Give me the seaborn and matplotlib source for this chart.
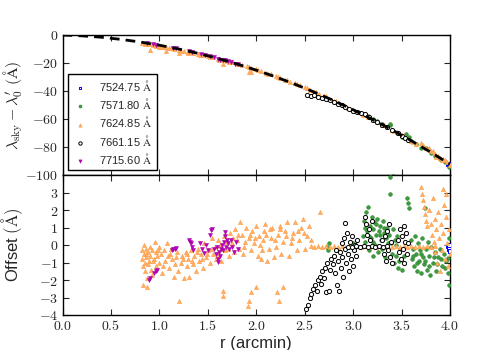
import numpy as np
import pandas as pd
import seaborn as sns
import matplotlib
matplotlib.use("Agg")
import matplotlib.pyplot as plt
from matplotlib.ticker import FuncFormatter, FixedLocator

# ---------------- data ----------------
series_labels = [r"7524.75 $\mathrm{\AA}$", r"7571.80 $\mathrm{\AA}$",
                 r"7624.85 $\mathrm{\AA}$", r"7661.15 $\mathrm{\AA}$",
                 r"7715.60 $\mathrm{\AA}$"]

# model curve (dashed line, top panel)
model_r = [0.0, 0.2, 0.4, 0.6, 0.8, 1.0, 1.2, 1.4, 1.6, 1.8, 2.0, 2.2, 2.4,
           2.6, 2.8, 3.0, 3.2, 3.4, 3.6, 3.8, 4.0]
model_dl = [0.0, -0.6, -1.6, -3.1, -5.0, -7.3, -10.0, -13.1, -16.7, -20.7,
            -25.1, -29.9, -35.2, -40.8, -46.9, -53.4, -60.4, -67.7, -75.5,
            -83.7, -92.3]

# ---- top panel: measured lambda_sky - lambda_0' ----
blue_top_r = [3.98, 3.99, 4.00]
blue_top_dl = [-92.0, -92.3, -92.5]

green_top_r = [3.05, 3.10, 3.15, 3.20, 3.25, 3.30, 3.35, 3.38, 3.38, 3.40, 3.45,
               3.50, 3.55, 3.58, 3.60, 3.65, 3.70, 3.75, 3.80, 3.85, 3.90, 3.95,
               3.99, 3.41]
green_top_dl = [-55.0, -56.5, -58.0, -60.0, -61.5, -63.5, -65.5, -64.0, -63.5,
                -67.5, -70.0, -72.5, -71.0, -73.0, -76.0, -78.0, -80.5, -81.0,
                -84.5, -86.5, -88.5, -91.0, -94.0, -100.5]

orange_top_r = [0.82, 0.85, 0.88, 0.90, 0.93, 0.96, 1.00, 1.04, 1.07, 1.10,
                1.15, 1.20, 1.25, 1.30, 1.35, 1.40, 1.45, 1.50, 1.55, 1.60,
                1.66, 1.70, 1.75, 1.80, 1.85, 1.90, 1.95, 2.00, 2.05, 2.10,
                2.15, 2.20, 2.25, 2.30, 2.35, 2.40, 2.45, 2.50, 2.55, 2.60,
                2.65, 2.70, 2.75, 2.80, 2.85, 2.90, 2.95, 3.00, 3.05, 3.10,
                3.15, 3.20, 3.25, 3.30, 3.35, 3.40, 3.45, 3.50, 3.55, 3.60,
                3.65, 3.70, 3.72, 3.75, 3.80, 3.82, 3.85, 3.88, 3.90, 3.93,
                3.95, 3.97, 4.00,
                0.90, 1.07, 1.20, 1.66, 1.92, 1.95, 1.00, 1.30,
                1.02, 1.12, 1.22, 1.32, 1.42, 1.52, 1.62, 1.72, 1.82, 1.92,
                2.02, 2.12, 2.22, 2.32, 2.42, 2.52, 2.62, 2.72, 2.82, 2.92,
                3.02, 3.12, 3.22, 3.32, 3.42, 3.52, 3.62, 3.78, 3.86, 3.92]
orange_top_dl = [-5.6, -6.2, -6.3, -6.7, -6.9, -7.5, -7.8, -8.6, -8.7, -9.2,
                 -10.0, -10.7, -11.6, -12.4, -13.0, -13.8, -14.6, -15.2, -16.0,
                 -16.8, -17.9, -18.5, -19.4, -20.4, -21.4, -22.4, -23.6, -24.6,
                 -25.8, -26.9, -28.2, -29.4, -30.6, -32.0, -33.3, -34.6, -36.0,
                 -37.4, -39.0, -40.6, -42.3, -43.8, -45.5, -47.0, -48.6, -50.2,
                 -51.8, -53.4, -55.1, -56.8, -58.6, -60.4, -62.2, -64.0, -65.8,
                 -67.7, -69.6, -71.6, -73.5, -75.5, -77.5, -77.0, -78.5, -80.4,
                 -82.6, -83.0, -85.0, -86.2, -87.5, -88.3, -89.6, -91.0, -92.6,
                 -10.5, -11.6, -13.2, -20.5, -26.3, -26.6, -8.8, -12.6,
                 -8.4, -9.6, -11.2, -12.2, -14.0, -15.7, -17.6, -19.2, -21.0,
                 -22.9, -25.3, -27.8, -29.8, -32.3, -35.0, -37.8, -41.0, -43.9,
                 -47.2, -50.6, -54.0, -57.3, -61.0, -64.6, -68.5, -72.3, -76.2,
                 -80.9, -86.8, -89.4]

black_top_r = [2.52, 2.56, 2.60, 2.64, 2.68, 2.72, 2.76, 2.80, 2.84, 2.88, 2.92,
               2.96, 3.00, 3.04, 3.08, 3.12, 3.16, 3.20, 3.25, 3.30, 3.35, 3.40,
               3.46, 3.50, 3.54, 3.57]
black_top_dl = [-42.6, -43.5, -43.2, -44.0, -45.0, -46.0, -46.3, -47.5, -49.5,
                -50.0, -51.3, -52.5, -54.0, -55.0, -56.0, -56.5, -58.5, -60.5,
                -62.3, -64.0, -66.0, -68.0, -70.0, -72.0, -73.5, -74.8]

magenta_top_r = [0.87, 0.93, 0.96, 1.14, 1.17, 1.31, 1.34, 1.43, 1.47, 1.52,
                 1.56, 1.60, 1.63, 1.66, 1.68, 1.71, 1.74, 1.78, 1.81]
magenta_top_dl = [-5.8, -6.3, -6.9, -9.2, -9.4, -11.3, -12.1, -13.6, -14.6,
                  -14.8, -15.8, -17.3, -17.8, -18.2, -18.0, -18.8, -19.3,
                  -20.5, -21.0]

# ---- bottom panel: offsets ----
blue_off_r = [3.98, 3.99, 4.00, 3.99]
blue_off = [-0.05, -0.2, -0.35, 0.0]

green_off_r = [2.73, 2.74, 2.75, 2.96, 3.00,
               3.10, 3.11, 3.12, 3.13, 3.14, 3.15, 3.16, 3.17, 3.18, 3.19, 3.20,
               3.21, 3.22, 3.23, 3.24, 3.25, 3.26, 3.27, 3.28, 3.29, 3.30, 3.31,
               3.32, 3.33, 3.34, 3.35, 3.36, 3.37, 3.38, 3.38, 3.39, 3.40, 3.41,
               3.42, 3.43, 3.44, 3.45, 3.46, 3.48, 3.50,
               3.56, 3.57, 3.58,
               3.60, 3.61, 3.62, 3.63, 3.64, 3.65, 3.66, 3.67, 3.68, 3.69, 3.70,
               3.71, 3.72, 3.73, 3.74, 3.75, 3.76, 3.77, 3.78, 3.79, 3.80, 3.82,
               3.84, 3.86, 3.88, 3.90, 3.92, 3.94, 3.96, 3.98, 3.98, 3.99, 3.99,
               3.12, 3.16, 3.20, 3.24, 3.28, 3.32, 3.36, 3.44, 3.47, 3.52,
               3.62, 3.66, 3.70, 3.74, 3.78, 3.83, 3.87, 3.91, 3.95]
green_off = [-0.1, -0.3, 0.1, -0.1, 0.1,
             0.5, 1.4, 0.2, 1.9, 0.8, 2.2, -0.3, 1.1, 0.4, 1.6, -0.6,
             0.9, 1.3, 0.0, 0.6, 1.5, -0.4, 0.8, 1.1, 0.3, -0.2, 1.4,
             0.7, -0.7, 0.4, 1.0, -0.3, 0.6, 3.9, 2.9, 0.1, -0.5, 0.9,
             -1.0, 0.3, -0.6, 0.5, -1.3, -0.2, -1.4,
             2.7, 2.4, 2.1,
             0.3, -0.8, -0.2, -1.2, 0.5, -0.5, -1.5, 0.1, -0.9, -0.3, -1.6,
             0.4, -0.7, -1.1, 2.1, -0.2, -1.4, 0.2, -0.6, -1.7, -0.1, -1.0,
             -0.4, -1.5, -0.7, -0.2, -1.2, -0.5, -0.9, -0.75, -1.6, -2.3, 0.4,
             1.0, 0.5, 0.2, 1.2, 0.6, 1.0, 0.1, 0.0, -0.9, -0.6,
             -0.6, -1.0, -0.5, -0.9, -1.2, -0.7, -1.1, -0.8, -1.3]

orange_off_r = [0.82, 0.82, 0.83, 0.83, 0.84, 0.84, 0.85, 0.85, 0.86, 0.86,
                0.87, 0.87, 0.88, 0.88, 0.89, 0.90, 0.90, 0.91, 0.92, 0.92,
                0.94, 0.95, 0.96, 0.97, 0.98, 1.00, 1.00, 1.02, 1.03, 1.05,
                1.06, 1.08, 1.09, 1.10, 1.12, 1.13, 1.15, 1.16, 1.18, 1.19, 1.20,
                1.22, 1.23, 1.25, 1.27, 1.28, 1.30, 1.31, 1.33, 1.35, 1.36,
                1.38, 1.40, 1.41, 1.43, 1.45, 1.46, 1.48, 1.50,
                1.52, 1.54, 1.55, 1.57, 1.58, 1.60, 1.61, 1.63, 1.64, 1.66,
                1.66, 1.67, 1.68, 1.70, 1.72, 1.73, 1.75, 1.77, 1.78, 1.80,
                1.82, 1.83, 1.85, 1.86, 1.88, 1.89, 1.91, 1.92, 1.93, 1.95,
                1.95, 1.96, 1.98, 2.00, 2.00, 2.02, 2.03,
                2.05, 2.06, 2.07, 2.08, 2.09, 2.11, 2.13, 2.15, 2.16, 2.18,
                2.20, 2.21, 2.22, 2.23, 2.24, 2.26, 2.28, 2.28, 2.30, 2.32,
                2.34, 2.36, 2.38, 2.40, 2.42, 2.44, 2.46, 2.48, 2.50, 2.52,
                2.54, 2.57, 2.66,
                2.56, 2.60, 2.64, 2.68, 2.72, 2.76, 2.80, 2.84, 2.88, 2.92,
                2.96, 3.00, 3.04, 3.08, 3.12, 3.16, 3.20, 3.24, 3.28, 3.32,
                3.36, 3.40, 3.44, 3.48, 3.52, 3.56, 3.60, 3.64, 3.68, 3.72,
                3.76, 3.80, 3.84,
                3.70, 3.71, 3.72, 3.73, 3.74, 3.75, 3.76, 3.78, 3.80, 3.81,
                3.82, 3.83, 3.84, 3.85, 3.86, 3.87, 3.88, 3.89, 3.90, 3.91,
                3.92, 3.93, 3.94, 3.95, 3.96, 3.97, 3.98, 3.99, 4.00, 3.93, 3.96,
                0.86, 0.93, 0.99, 1.04, 1.11, 1.17, 1.24, 1.29, 1.34, 1.39,
                1.44, 1.49, 1.53, 1.59, 1.65, 1.71, 1.76, 1.81, 1.87, 1.94,
                1.99, 2.04, 2.10, 2.14, 2.19, 2.25, 2.31, 2.37, 2.43, 2.49]
orange_off = [-0.3, -0.8, -1.2, -2.3, 0.0, -0.5, -1.0, -1.5, -0.2, -0.7,
              -2.4, -1.9, -0.4, -1.1, -0.9, -0.1, -0.6, -1.4, -0.3, -1.7,
              -0.8, 0.2, -0.4, -1.2, -0.6, -0.1, -1.0, -0.5, -1.6, -0.3,
              -0.9, 0.1, -0.6, -1.3, -0.2, -0.8, -1.8, -1.1, -0.4, -1.5, -3.2,
              -1.0, -0.6, -1.9, -0.4, -1.2, -0.8, -1.8, -0.3, -1.1, -0.6,
              -1.5, -0.2, -0.9, -0.5, -1.3, 0.1, -0.7, -0.3,
              -1.0, 0.4, -0.5, -0.1, -0.8, 0.3, -0.4, 0.0, -0.9, -2.6,
              -2.9, 0.5, -0.3, 0.2, -0.6, 0.7, 0.1, -0.4, 0.9, 0.3,
              -0.2, 1.3, 0.6, -0.5, 0.2, 1.0, -3.5, -3.2, 0.4, -2.7,
              -0.3, 0.8, 0.1, -2.4, 1.1, -0.6, 0.5,
              -0.8, -0.3, 0.3, 0.8, 1.2, -0.9, -0.2, 0.4, 1.0, -0.7,
              -0.1, -2.7, 0.6, -3.2, 1.1, -0.5, -2.4, 0.2, 0.8, 1.3,
              -0.6, 0.1, 0.7, 1.3, -0.3, 0.3, 1.0, 1.5, -0.2, 0.5,
              1.1, 0.3, 1.9,
              -0.05, -0.1, -0.05, -0.1, -0.05, -0.1, -0.05, -0.1, -0.05, -0.1,
              -0.05, -0.1, -0.05, -0.1, -0.05, -0.1, -0.05, -0.1, -0.05, -0.1,
              -0.05, -0.1, -0.05, -0.1, -0.05, -0.1, -0.05, -0.1, -0.05, -0.1,
              -0.05, -0.1, -0.05,
              3.3, 2.9, 2.6, 2.2, 1.8, 1.4, 1.1, 2.0, 1.2, 0.6,
              2.7, 0.2, 1.5, -0.4, 0.9, -1.0, 1.9, 0.4, -1.5, 1.2,
              -0.3, 0.7, 2.3, -0.8, 1.6, 0.1, -1.2, 0.9, -0.5, 3.2, 2.9,
              -0.5, -0.9, -0.3, -1.2, -0.5, -0.7, -0.8, -0.5, -0.9, -0.4,
              -0.8, -0.5, -0.2, -0.6, -0.2, -0.2, 0.4, 0.6, -0.1, 0.6,
              0.4, 0.0, 0.6, 0.9, 0.3, 0.9, 0.5, 0.4, 0.8, 0.7]

black_off_r = [2.51, 2.53, 2.55, 2.57, 2.59, 2.61, 2.63, 2.64, 2.66, 2.67,
               2.68, 2.70, 2.71, 2.72, 2.73, 2.75, 2.76, 2.77, 2.79, 2.80,
               2.81, 2.82, 2.83, 2.84, 2.85, 2.86, 2.87, 2.88, 2.89, 2.90,
               2.91, 2.92, 2.92, 2.93, 2.94, 2.95, 2.96, 2.97, 2.98, 2.99,
               3.00, 3.01, 3.02, 3.03, 3.04,
               2.95, 2.99, 3.03, 3.07, 3.11, 3.15, 3.19, 3.23, 3.27, 3.31, 3.35,
               3.12, 3.13, 3.14, 3.16, 3.17, 3.19,
               3.30, 3.32, 3.33, 3.34, 3.35, 3.36, 3.37, 3.38, 3.39, 3.40,
               3.46, 3.47, 3.48, 3.49, 3.50, 3.51, 3.52, 3.53, 3.54, 3.55,
               3.56, 3.57]
black_off = [-3.65, -3.4, -3.0, -2.8, -2.5, -2.3, -2.6, -2.0, -1.8, -2.2,
             -1.5, -1.9, -1.3, -2.7, -1.0, -2.6, -1.4, -0.8, -1.1, -0.6,
             -1.6, -0.3, -2.3, -0.9, -2.6, -0.4, -1.3, 0.1, -0.7, -1.8,
             0.4, 1.25, -0.2, -1.0, 0.7, -0.5, -1.5, 0.2, -0.8, 0.5,
             -1.2, -0.3, 0.0, -0.6, 0.3,
             -0.1, -0.1, -0.05, -0.1, -0.05, -0.1, -0.05, -0.1, -0.05, -0.1, -0.05,
             1.6, 1.2, 0.6, 0.9, 0.3, 1.4,
             0.3, -0.5, 0.5, -0.9, 0.8, -0.3, 1.2, -0.7, 0.2, -1.0,
             0.3, -0.4, 0.9, -0.8, 0.5, -0.2, 1.1, -1.0, 0.2, 0.7,
             -0.5, 0.1]

magenta_off_r = [0.89, 0.90, 0.94, 0.96, 0.98, 1.13, 1.14, 1.16, 1.17, 1.31,
                 1.32, 1.33, 1.34, 1.35, 1.42, 1.44, 1.46, 1.48, 1.50, 1.52,
                 1.53, 1.54, 1.56, 1.58, 1.59, 1.60, 1.61, 1.62, 1.63, 1.64,
                 1.65, 1.66, 1.67, 1.68, 1.68, 1.69, 1.70, 1.71, 1.72, 1.74,
                 1.75, 1.77, 1.79, 1.81]
magenta_off = [-2.0, -1.9, -1.6, -1.5, -1.4, -0.3, -0.25, -0.2, -0.15, 0.3,
               0.2, 0.1, -0.1, -0.3, 0.1, -0.2, -0.45, 0.0, -0.3, 0.6,
               0.85, 0.9, -0.2, -0.5, -0.1, -0.8, -0.95, -0.4, -0.6, -0.2,
               0.0, -0.3, 0.2, 0.5, 0.75, -0.1, 0.3, 0.1, -0.2, 0.3,
               -0.1, -0.4, 0.2, -0.2]

x_ticks = [0.0, 0.5, 1.0, 1.5, 2.0, 2.5, 3.0, 3.5, 4.0]
top_yticks = [0, -20, -40, -60, -80, -100]
bot_yticks = [-4, -3, -2, -1, 0, 1, 2, 3]

# ---------------- styling ----------------
sns.set_style("ticks")
plt.rcParams["font.family"] = ["Liberation Sans", "DejaVu Sans"]
plt.rcParams["mathtext.fontset"] = "cm"
plt.rcParams["axes.linewidth"] = 1.0

styles = [
    dict(marker="s", color="white", edgecolor="#0000ff", linewidth=0.7, s=6),
    dict(marker="o", color="#3d9c3d", edgecolor="#2a7f2a", linewidth=0.4, s=7),
    dict(marker="^", color="#ffb066", edgecolor="#ff9a40", linewidth=0.4, s=9),
    dict(marker="o", color="white", edgecolor="black", linewidth=0.7, s=9),
    dict(marker="v", color="#c000c0", edgecolor="#a000a0", linewidth=0.4, s=8),
]

fig = plt.figure(figsize=(5.0, 3.5), dpi=100)
fig.patch.set_facecolor("white")
ax1 = fig.add_axes([0.125, 0.5, 0.775, 0.4])
ax2 = fig.add_axes([0.125, 0.1, 0.775, 0.4], sharex=ax1)

top_data = [(blue_top_r, blue_top_dl), (green_top_r, green_top_dl),
            (orange_top_r, orange_top_dl), (black_top_r, black_top_dl),
            (magenta_top_r, magenta_top_dl)]
bot_data = [(blue_off_r, blue_off), (green_off_r, green_off),
            (orange_off_r, orange_off), (black_off_r, black_off),
            (magenta_off_r, magenta_off)]

for (xr, yv), st, lab in zip(top_data, styles, series_labels):
    sns.scatterplot(x=xr, y=yv, ax=ax1, label=lab, zorder=3, **st)
sns.lineplot(x=model_r, y=model_dl, ax=ax1, color="black", lw=2.0,
             linestyle=(0, (3.5, 2.2)), zorder=4, legend=False)

for (xr, yv), st in zip(bot_data, styles):
    sns.scatterplot(x=xr, y=yv, ax=ax2, zorder=3, **st)

mfmt1 = FuncFormatter(lambda v, p: "$%.1f$" % v)
mfmt0 = FuncFormatter(lambda v, p: "$%d$" % int(round(v)))

for ax in (ax1, ax2):
    ax.set_xlim(0, 4)
    ax.xaxis.set_major_locator(FixedLocator(x_ticks))
    ax.tick_params(direction="in", top=True, right=True, length=4, width=0.8,
                   labelsize=10, pad=3)
    for sp in ax.spines.values():
        sp.set_color("black")
        sp.set_linewidth(1.0)
        sp.set_visible(True)

ax1.set_ylim(-100, 0)
ax1.yaxis.set_major_locator(FixedLocator(top_yticks))
ax1.yaxis.set_major_formatter(mfmt0)
ax1.tick_params(labelbottom=False)
ax1.set_ylabel(r"$\lambda_{\rm sky} - \lambda_0^{\prime}\ (\mathrm{\AA})$",
               fontsize=11.5)
ax1.set_xlabel("")

ax2.set_ylim(-4, 4)
ax2.yaxis.set_major_locator(FixedLocator(bot_yticks))
ax2.yaxis.set_major_formatter(mfmt0)
ax2.xaxis.set_major_formatter(mfmt1)
ax2.set_xlabel("r (arcmin)", fontsize=12, labelpad=2)
ax2.set_ylabel(r"Offset $(\mathrm{\AA})$", fontsize=12)

ax1.yaxis.set_label_coords(-0.097, 0.5)
ax2.yaxis.set_label_coords(-0.097, 0.5)

leg = ax1.legend(loc="lower left", bbox_to_anchor=(0.014, 0.035), fontsize=8,
                 frameon=True, fancybox=False, framealpha=1, edgecolor="black",
                 scatterpoints=1, markerscale=0.8, labelspacing=0.28,
                 handlelength=1.4, handletextpad=1.0, borderpad=0.4,
                 borderaxespad=0.0)
leg.get_frame().set_linewidth(1.0)

fig.savefig("out.png", dpi=100, facecolor="white")
